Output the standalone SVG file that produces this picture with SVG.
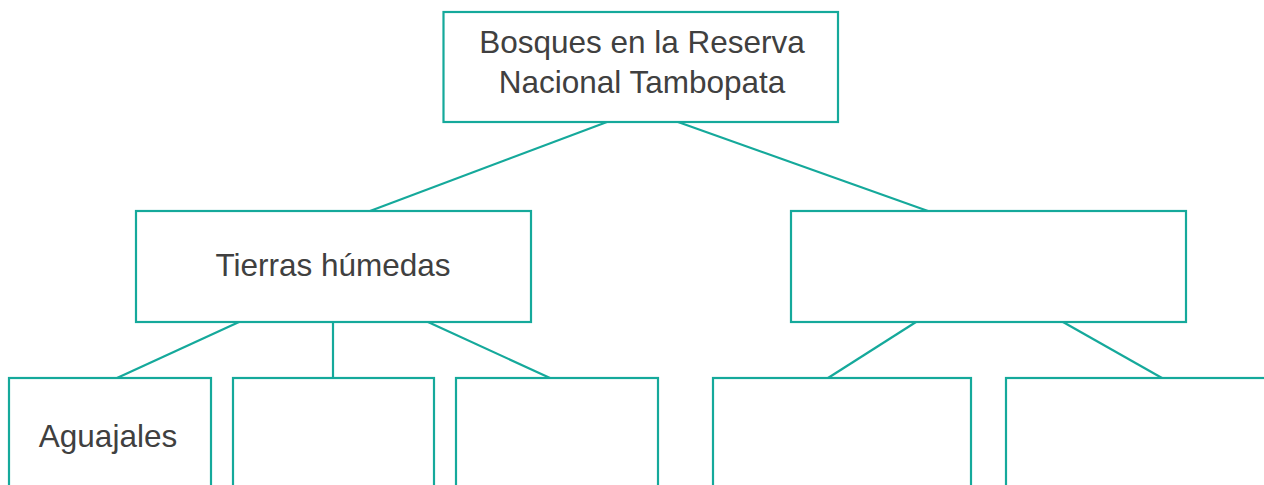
<svg xmlns="http://www.w3.org/2000/svg" width="1264" height="485" viewBox="0 0 1264 485">
<style>
.box{fill:#fff;stroke:#15a99b;stroke-width:2.2}
.con line{stroke:#15a99b;stroke-width:2.2}
.t{font-family:"Liberation Sans",Arial,sans-serif;font-size:31.5px;fill:#404040;text-anchor:middle}
</style>
<rect width="1264" height="485" fill="#fff"/>
<g class="con">
<line x1="607" y1="122" x2="370" y2="211"/>
<line x1="678" y1="122" x2="928" y2="211"/>
<line x1="239" y1="322" x2="117" y2="378"/>
<line x1="333" y1="322" x2="333" y2="378"/>
<line x1="428" y1="322" x2="550" y2="378"/>
<line x1="916" y1="322" x2="828" y2="378"/>
<line x1="1063" y1="322" x2="1162" y2="378"/>
</g>
<g id="root"><rect class="box" x="443.5" y="12" width="394.5" height="110"/>
<text class="t" x="642" y="53">Bosques en la Reserva</text>
<text class="t" x="642" y="93">Nacional Tambopata</text></g>
<g id="tierras"><rect class="box" x="136" y="211" width="395" height="111"/>
<text class="t" x="333" y="276">Tierras húmedas</text></g>
<g id="right"><rect class="box" x="791" y="211" width="395" height="111"/></g>
<g id="aguajales"><rect class="box" x="9" y="378" width="202" height="120"/>
<text class="t" x="108" y="447">Aguajales</text></g>
<g id="b2"><rect class="box" x="233" y="378" width="201" height="120"/></g>
<g id="b3"><rect class="box" x="456" y="378" width="202" height="120"/></g>
<g id="b4"><rect class="box" x="713" y="378" width="258" height="120"/></g>
<g id="b5"><rect class="box" x="1006" y="378" width="270" height="120"/></g>
</svg>
